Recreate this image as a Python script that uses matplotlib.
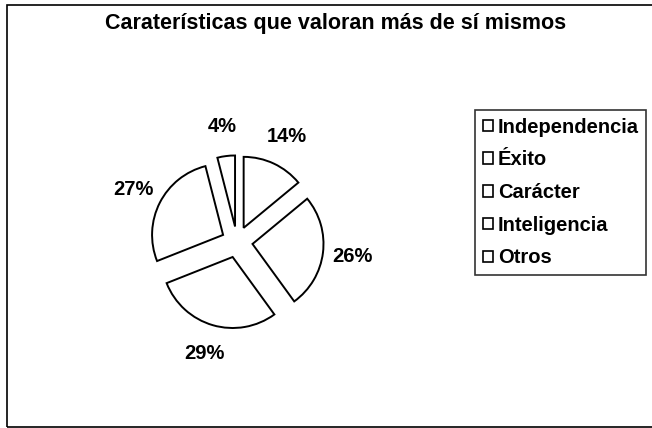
import matplotlib
matplotlib.use("Agg")
from matplotlib import pyplot as plt
from matplotlib.patches import Rectangle, Patch

plt.rcParams['font.family'] = ['Liberation Sans', 'DejaVu Sans']

labels = ["Independencia", "Éxito", "Carácter", "Inteligencia", "Otros"]
values = [14, 26, 29, 27, 4]
title = "Caraterísticas que valoran más de sí mismos"

W, H = 652, 428
fig = plt.figure(figsize=(W / 100, H / 100), dpi=100)

# outer border of the chart area
fig.patches.append(Rectangle((7 / W, 1 - 427 / H), 1.0, (427 - 5) / H,
                             transform=fig.transFigure, fill=False,
                             edgecolor="black", linewidth=1.2))

# pie axes, 1 data unit = 71 px, centred at pixel (237, 242)
cx, cy, r_px, box = 237, 242, 71, 320
ax = fig.add_axes([(cx - box / 2) / W, (H - cy - box / 2) / H, box / W, box / H])

wedges, texts, autotexts = ax.pie(
    values, startangle=90, counterclock=False, explode=[0.22] * len(values),
    autopct="%d%%", pctdistance=1.42, radius=1, frame=True,
    colors=["white"] * len(values),
    wedgeprops=dict(edgecolor="black", linewidth=1.4),
    textprops=dict(fontsize=14.5, fontweight="bold"))
ax.set_xlim(-box / 2 / r_px, box / 2 / r_px)
ax.set_ylim(-box / 2 / r_px, box / 2 / r_px)
ax.axis("off")

fig.text(336 / W, 1 - 23 / H, title, ha="center", va="center",
         fontsize=15.5, fontweight="bold")

handles = [Patch(facecolor="white", edgecolor="black", linewidth=1.2) for _ in labels]
leg = fig.legend(handles, labels, loc="upper left",
                 bbox_to_anchor=(475 / W, 1 - 110 / H), borderaxespad=0,
                 fancybox=False, frameon=True, edgecolor="black",
                 prop=dict(size=14.5, weight="bold"),
                 handlelength=0.5, handleheight=0.5, handletextpad=0.25,
                 labelspacing=0.68, borderpad=0.38)
leg.get_frame().set_linewidth(1.2)

fig.savefig("out.png", dpi=100)
